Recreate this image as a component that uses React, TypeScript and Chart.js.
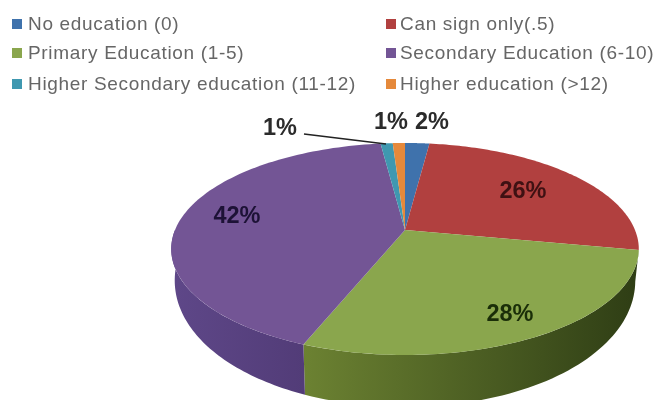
import React, { useEffect, useRef } from "react";
import { Chart, registerables, PieController, ArcElement } from "chart.js";

const categories = [
  "No education (0)",
  "Can sign only(.5)",
  "Primary Education (1-5)",
  "Secondary Education (6-10)",
  "Higher Secondary education (11-12)",
  "Higher education (>12)",
];
const shares = [2, 26, 28, 42, 1, 1];
const faceColors = ["#3f72ac", "#b1403f", "#8aa64d", "#735595", "#3f98b0", "#e5893b"];
const wallLeft = ["#2d5380", "#84292d", "#6c8232", "#5e4788", "#2c6d80", "#a86024"];
const wallRight = ["#2d5380", "#84292d", "#2f3e15", "#523c78", "#2c6d80", "#a86024"];

const labelFont = 'bold 23.5px "Liberation Sans", Arial, sans-serif';
const legendFont = '19px "Liberation Sans", Arial, sans-serif';

// Tilted-disc projection: unit-circle point to screen offsets, with the near rim enlarged.
const TILT = { sx: 1.353, sy: 0.6035, w: -0.179 };
const project = (el: any, angle: number) => {
  const u = Math.cos(angle);
  const v = Math.sin(angle);
  const d = TILT.w * v + 1;
  return {
    x: el.x + (TILT.sx * el.outerRadius * u) / d,
    y: el.y + (TILT.sy * el.outerRadius * v) / d,
    v,
  };
};
const lowerRim = (el: any, angle: number) => {
  const p = project(el, angle);
  const depth = el.outerRadius * (0.159 + 0.147 * p.v);
  return { x: el.x + (p.x - el.x) * 0.985, y: p.y + depth };
};

class Arc3D extends ArcElement {
  static id = "arc3d";

  drawWall(ctx: CanvasRenderingContext2D, index: number) {
    const a0 = Math.max(this.startAngle, 0);
    const a1 = Math.min(this.endAngle, Math.PI);
    if (a1 <= a0) return;
    const n = 64;
    const left = this.x - TILT.sx * this.outerRadius;
    const right = this.x + TILT.sx * this.outerRadius;
    const startX = Math.min(project(this, a0).x, project(this, a1).x);
    const endX = Math.max(project(this, a0).x, project(this, a1).x);
    const grad = ctx.createLinearGradient(Math.max(left, startX), 0, Math.min(right, endX), 0);
    grad.addColorStop(0, wallLeft[index]);
    grad.addColorStop(1, wallRight[index]);
    ctx.beginPath();
    for (let i = 0; i <= n; i++) {
      const p = project(this, a0 + ((a1 - a0) * i) / n);
      i ? ctx.lineTo(p.x, p.y) : ctx.moveTo(p.x, p.y);
    }
    for (let i = n; i >= 0; i--) {
      const p = lowerRim(this, a0 + ((a1 - a0) * i) / n);
      ctx.lineTo(p.x, p.y);
    }
    ctx.closePath();
    ctx.fillStyle = grad;
    ctx.fill();
  }

  draw(ctx: CanvasRenderingContext2D) {
    const n = 96;
    ctx.beginPath();
    ctx.moveTo(this.x, this.y);
    for (let i = 0; i <= n; i++) {
      const p = project(this, this.startAngle + ((this.endAngle - this.startAngle) * i) / n);
      ctx.lineTo(p.x, p.y);
    }
    ctx.closePath();
    ctx.fillStyle = (this.options as any).backgroundColor;
    ctx.fill();
  }
}

class Pie3D extends PieController {
  static id = "pie3d";
  static defaults = { dataElementType: "arc3d" };

  draw() {
    const ctx = this.chart.ctx;
    this._cachedMeta.data.forEach((el: any, i: number) => el.drawWall(ctx, i));
    super.draw();
  }
}

Chart.register(...registerables, Arc3D, Pie3D);

const legendColumns = [12, 386];
const legendRows = [24, 53, 84];
const valueLabels = [
  { index: 0, x: 432, y: 123, color: "#2b2b2b" },
  { index: 1, x: 523, y: 192, color: "#3f1113" },
  { index: 2, x: 510, y: 315, color: "#1a2e08" },
  { index: 3, x: 237, y: 217, color: "#1d1236" },
  { index: 4, x: 280, y: 129, color: "#2b2b2b" },
  { index: 5, x: 391, y: 123, color: "#2b2b2b" },
];

const annotations = {
  id: "annotations",
  afterDatasetsDraw(chart: any) {
    const { ctx } = chart;
    ctx.save();

    // Two-column key above the pie
    ctx.font = legendFont;
    ctx.textBaseline = "middle";
    ctx.textAlign = "left";
    (ctx as any).letterSpacing = "0.68px";
    categories.forEach((name, i) => {
      const x = legendColumns[i % 2];
      const y = legendRows[Math.floor(i / 2)];
      ctx.fillStyle = faceColors[i];
      ctx.fillRect(x, y - 5, 10, 10);
      ctx.fillStyle = "#666666";
      ctx.fillText(name, x + (i % 2 ? 14 : 16), y + 1);
    });
    (ctx as any).letterSpacing = "0px";

    // Percentages
    ctx.font = labelFont;
    ctx.textAlign = "center";
    valueLabels.forEach((l) => {
      const pct = chart.data.datasets[0].data[l.index];
      ctx.fillStyle = l.color;
      ctx.fillText(`${pct}%`, l.x, l.y);
    });

    // Leader for the small teal slice
    ctx.strokeStyle = "#222";
    ctx.lineWidth = 1.5;
    ctx.beginPath();
    ctx.moveTo(304, 134);
    ctx.lineTo(386, 144);
    ctx.stroke();
    ctx.restore();
  },
};

export default function App() {
  const ref = useRef<HTMLCanvasElement>(null);
  useEffect(() => {
    const chart = new Chart(ref.current!, {
      type: "pie3d" as any,
      data: {
        labels: categories,
        datasets: [{ data: shares, backgroundColor: faceColors, borderWidth: 0 }],
      },
      options: {
        responsive: false,
        animation: false,
        layout: { padding: { left: 153, top: 60 } },
        plugins: { legend: { display: false }, tooltip: { enabled: false } },
      },
      plugins: [annotations],
    } as any);
    return () => chart.destroy();
  }, []);
  return (
    <div style={{ position: "fixed", left: 0, top: 0, width: 657, height: 400, background: "#fff" }}>
      <canvas ref={ref} width={657} height={400} style={{ display: "block" }} />
    </div>
  );
}
